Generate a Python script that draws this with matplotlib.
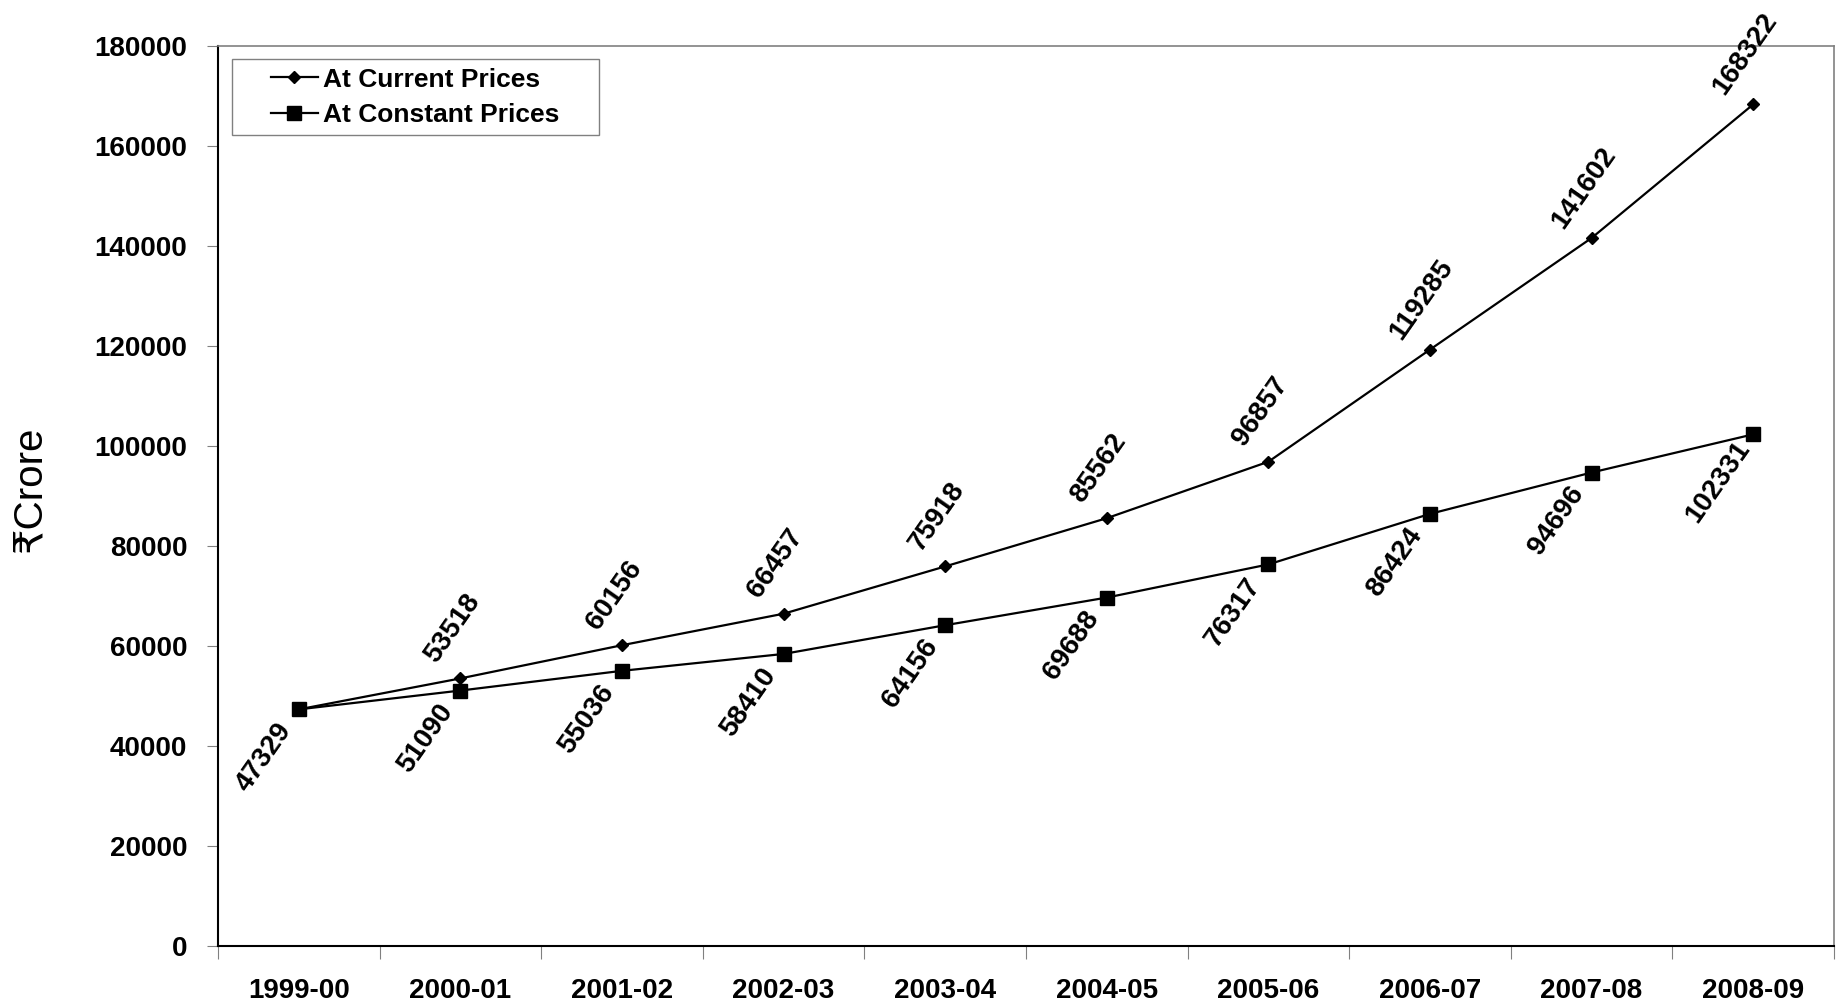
import matplotlib
matplotlib.use("Agg")
import matplotlib.pyplot as plt
from matplotlib.patches import Rectangle
import numpy as np

categories = ["1999-00", "2000-01", "2001-02", "2002-03", "2003-04",
              "2004-05", "2005-06", "2006-07", "2007-08", "2008-09"]
current_prices = [47329, 53518, 60156, 66457, 75918, 85562, 96857, 119285, 141602, 168322]
constant_prices = [47329, 51090, 55036, 58410, 64156, 69688, 76317, 86424, 94696, 102331]
yticks = list(range(0, 180001, 20000))

plt.rcParams['font.family'] = ['Liberation Sans', 'DejaVu Sans']

W, H = 1839, 1008
fig = plt.figure(figsize=(W / 100, H / 100), dpi=100)
L, R, T, B = 218, 1834, 46, 946
AW, AH = R - L, B - T
ax = fig.add_axes([L / W, 1 - B / H, AW / W, AH / H])

x = np.arange(len(categories)) + 0.5
ax.plot(x, current_prices, color='black', lw=1.6, marker='D', ms=6.5,
        label='At Current Prices', zorder=3)
ax.plot(x, constant_prices, color='black', lw=1.6, marker='s', ms=9.5,
        label='At Constant Prices', zorder=3)

lab_kw = dict(textcoords='offset pixels', ha='center', va='center',
              rotation=55, rotation_mode='anchor', fontsize=20, fontweight='bold')
for xi, v in zip(x[1:], current_prices[1:]):
    ax.annotate(f"{v}", (xi, v), xytext=(-8, 50), **lab_kw)
for xi, v in zip(x, constant_prices):
    ax.annotate(f"{v}", (xi, v), xytext=(-35, -48), **lab_kw)

ax.set_xlim(0, len(categories))
ax.set_ylim(0, 180000)
ax.set_yticks(yticks)
ax.set_yticklabels([str(t) for t in yticks], fontsize=20, fontweight='bold')
ax.set_xticks(np.arange(len(categories) + 1))
ax.set_xticklabels([])
ax.set_xticks(x, minor=True)
ax.set_xticklabels(categories, minor=True, fontsize=20, fontweight='bold')
ax.tick_params(axis='x', which='minor', length=0, pad=23)
ax.tick_params(axis='x', which='major', length=9, color='#808080', direction='out')
ax.tick_params(axis='y', length=8, color='#808080', direction='out', pad=14)

for s in ['left', 'bottom']:
    ax.spines[s].set_color('black')
    ax.spines[s].set_linewidth(1.5)
for s in ['top', 'right']:
    ax.spines[s].set_color('#808080')
    ax.spines[s].set_linewidth(1.2)

# legend frame (drawn separately to reproduce the wide left padding)
ax.add_patch(Rectangle(((232 - L) / AW, (B - 135) / AH), (599 - 232) / AW, (135 - 59) / AH,
                       transform=ax.transAxes, facecolor='white', edgecolor='#808080',
                       lw=1.0, zorder=4))
leg = ax.legend(loc='center left', bbox_to_anchor=((271 - L) / AW, (B - 97.5) / AH),
                frameon=False, prop={'weight': 'bold', 'size': 19}, handlelength=1.78,
                handletextpad=0.2, borderpad=0, labelspacing=0.45, borderaxespad=0)
leg.set_zorder(5)

fig.text(29 / W, 1 - 489 / H, "₹Crore", rotation=90, ha='center', va='center',
         fontsize=29)

fig.savefig("out.png", dpi=100)
